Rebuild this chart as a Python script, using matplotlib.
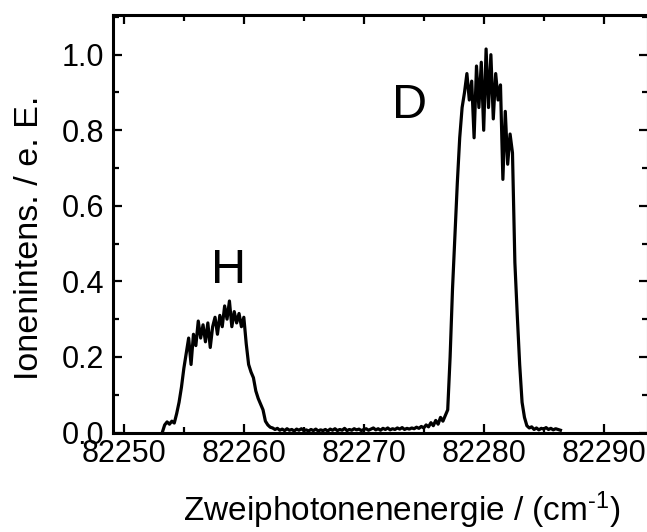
import matplotlib
matplotlib.use("Agg")
import matplotlib.pyplot as plt
from matplotlib.ticker import MultipleLocator

plt.rcParams['font.family'] = ['Liberation Sans', 'DejaVu Sans']
plt.rcParams['mathtext.fontset'] = 'custom'
plt.rcParams['mathtext.rm'] = 'Liberation Sans'
plt.rcParams['mathtext.it'] = 'Liberation Sans'

# wavenumber (cm^-1)
wavenumber = [
    82253.2, 82253.4, 82253.6, 82253.8, 82254.0, 82254.2, 82254.4, 82254.6, 82254.8, 82255.0,
    82255.2, 82255.4, 82255.6, 82255.8, 82256.0, 82256.2, 82256.4, 82256.6, 82256.8, 82257.0,
    82257.2, 82257.4, 82257.6, 82257.8, 82258.0, 82258.2, 82258.4, 82258.6, 82258.8, 82259.0,
    82259.2, 82259.4, 82259.6, 82259.8, 82260.0, 82260.2, 82260.4, 82260.6, 82260.8, 82261.0,
    82261.2, 82261.4, 82261.6, 82261.8, 82262.0, 82262.2, 82262.4, 82262.6, 82262.8, 82263.0,
    82263.2, 82263.4, 82263.6, 82263.8, 82264.0, 82264.2, 82264.4, 82264.6, 82264.8, 82265.0,
    82265.2, 82265.4, 82265.6, 82265.8, 82266.0, 82266.2, 82266.4, 82266.6, 82266.8, 82267.0,
    82267.2, 82267.4, 82267.6, 82267.8, 82268.0, 82268.2, 82268.4, 82268.6, 82268.8, 82269.0,
    82269.2, 82269.4, 82269.6, 82269.8, 82270.0, 82270.2, 82270.4, 82270.6, 82270.8, 82271.0,
    82271.2, 82271.4, 82271.6, 82271.8, 82272.0, 82272.2, 82272.4, 82272.6, 82272.8, 82273.0,
    82273.2, 82273.4, 82273.6, 82273.8, 82274.0, 82274.2, 82274.4, 82274.6, 82274.8, 82275.0,
    82275.2, 82275.4, 82275.6, 82275.8, 82276.0, 82276.2, 82276.4, 82276.6, 82276.8, 82277.0,
    82277.2, 82277.4, 82277.6, 82277.8, 82278.0, 82278.2, 82278.4, 82278.6, 82278.8, 82279.0,
    82279.2, 82279.4, 82279.6, 82279.8, 82280.0, 82280.2, 82280.4, 82280.6, 82280.8, 82281.0,
    82281.2, 82281.4, 82281.6, 82281.8, 82282.0, 82282.2, 82282.4, 82282.6, 82282.8, 82283.0,
    82283.2, 82283.4, 82283.6, 82283.8, 82284.0, 82284.2, 82284.4, 82284.6, 82284.8, 82285.0,
    82285.2, 82285.4, 82285.6, 82285.8, 82286.0, 82286.2, 82286.4,
]

# ion intensity (arb. units)
intensity = [
    0.000, 0.020, 0.028, 0.022, 0.030, 0.025, 0.050, 0.080, 0.120, 0.170,
    0.210, 0.250, 0.180, 0.260, 0.230, 0.295, 0.250, 0.285, 0.240, 0.290,
    0.225, 0.280, 0.305, 0.260, 0.310, 0.280, 0.335, 0.300, 0.348, 0.280,
    0.320, 0.290, 0.315, 0.280, 0.305, 0.235, 0.180, 0.160, 0.145, 0.110,
    0.090, 0.075, 0.060, 0.030, 0.020, 0.014, 0.012, 0.008, 0.011, 0.006,
    0.009, 0.005, 0.010, 0.006, 0.008, 0.004, 0.009, 0.006, 0.010, 0.005,
    0.007, 0.004, 0.008, 0.005, 0.009, 0.004, 0.007, 0.005, 0.008, 0.004,
    0.009, 0.006, 0.010, 0.005, 0.008, 0.006, 0.011, 0.005, 0.008, 0.006,
    0.010, 0.007, 0.009, 0.005, 0.008, 0.010, 0.006, 0.009, 0.012, 0.007,
    0.010, 0.006, 0.011, 0.008, 0.012, 0.007, 0.010, 0.008, 0.012, 0.009,
    0.013, 0.008, 0.011, 0.009, 0.012, 0.010, 0.014, 0.011, 0.016, 0.012,
    0.020, 0.015, 0.026, 0.018, 0.032, 0.022, 0.040, 0.030, 0.045, 0.060,
    0.200, 0.380, 0.520, 0.660, 0.780, 0.860, 0.900, 0.950, 0.880, 0.930,
    0.780, 0.970, 0.860, 0.980, 0.800, 1.015, 0.860, 1.000, 0.830, 0.950,
    0.880, 0.920, 0.670, 0.850, 0.710, 0.790, 0.740, 0.450, 0.310, 0.180,
    0.080, 0.040, 0.018, 0.012, 0.015, 0.008, 0.012, 0.007, 0.011, 0.009,
    0.013, 0.008, 0.011, 0.007, 0.010, 0.008, 0.006,
]

peak_labels = ["H", "D"]
peak_label_x = [82258.7, 82273.8]
peak_label_y = [0.43, 0.866]

fig = plt.figure(figsize=(6.47, 5.32), dpi=100)
ax = fig.add_axes([112.5 / 647, (532 - 432.5) / 532, (648 - 112.5) / 647, (432.5 - 15) / 532])

ax.plot(wavenumber, intensity, color='black', lw=2.3)

ax.set_xlim(82249.05, 82293.7)
ax.set_ylim(0.0, 1.105)
ax.xaxis.set_major_locator(MultipleLocator(10))
ax.xaxis.set_minor_locator(MultipleLocator(5))
ax.yaxis.set_major_locator(MultipleLocator(0.2))
ax.yaxis.set_minor_locator(MultipleLocator(0.1))
ax.yaxis.set_major_formatter(plt.FuncFormatter(lambda v, p: f"{v:.1f}"))
ax.xaxis.set_major_formatter(plt.FuncFormatter(lambda v, p: f"{int(round(v))}"))

ax.tick_params(which='both', direction='in', top=True, right=True, width=1.6,
               labelsize=22)
ax.tick_params(axis='x', pad=4.5)
ax.tick_params(axis='y', pad=6)
ax.tick_params(which='major', length=6.5)
ax.tick_params(which='minor', length=4)
for s in ax.spines.values():
    s.set_linewidth(2.2)

for lab, lx, ly in zip(peak_labels, peak_label_x, peak_label_y):
    ax.text(lx, ly, lab, fontsize=35, ha='center', va='center')

fig.text(402 / 647, (532 - 510) / 532, 'Zweiphotonenenergie / (cm$^{\\mathregular{\u20101}}$)',
         fontsize=24, ha='center', va='center')
fig.text(30 / 647, (532 - 238) / 532, 'Ionenintens. / e. E.', fontsize=24.5,
         rotation=90, ha='center', va='center')

fig.savefig('out.png', dpi=100)
